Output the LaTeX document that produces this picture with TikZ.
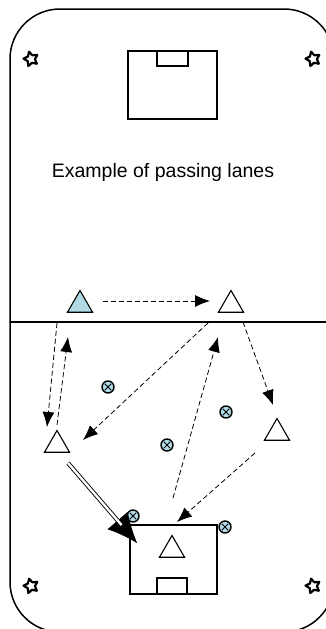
\documentclass[tikz,border=0pt]{standalone}
\usepackage{fontspec}
\setmainfont{Liberation Sans}
\usepackage{tikz}
\usetikzlibrary{calc, shapes.geometric, arrows.meta}
\definecolor{bibblue}{RGB}{176,218,230}
\tikzstyle{player}    = [regular polygon, regular polygon sides=3, minimum size=29pt, inner sep=0pt, draw=black, line width=1.1pt, fill=white]
\tikzstyle{ball}      = [circle, minimum size=12pt, inner sep=0pt, draw=black, line width=1.4pt, fill=bibblue,
                         path picture={\draw[line width=1pt] ($(path picture bounding box.center)+(-3.2pt,-3.2pt)$) -- ($(path picture bounding box.center)+(3.2pt,3.2pt)$)
                                       ($(path picture bounding box.center)+(-3.2pt,3.2pt)$) -- ($(path picture bounding box.center)+(3.2pt,-3.2pt)$);}]
\tikzstyle{cone}      = [star, star points=5, star point ratio=1.9, minimum size=15pt, inner sep=0pt, draw=black, line width=2.2pt, line join=round, rotate=15]
\tikzstyle{goalbox}   = [rectangle, inner sep=0pt, draw=black, line width=1.5pt]
\tikzstyle{passarrow} = [line width=0.8pt, dash pattern=on 5pt off 3pt, ->, >={Latex[length=15pt,width=12pt]}]
\tikzstyle{dribble}   = [double, double distance=2.4pt, line width=0.9pt]
\tikzstyle{dribbletip}= [line width=0.9pt, ->, >={Latex[length=30pt,width=27pt]}]

\begin{document}
\begin{tikzpicture}[x=1pt, y=-1pt]
      \useasboundingbox (0,0) rectangle (326,629);
      \clip (0,0) rectangle (326,629);

      % field
      \draw [line width=1.5pt, rounded corners=50pt] (10,9) rectangle (334,632);
      \draw [line width=1.5pt] (10,322) -- (334,322);

      \node (topbox)  [goalbox, minimum width=89pt, minimum height=68pt] at (172.5,85) {};
      \node (topgoal) [goalbox, minimum width=31pt, minimum height=15pt] at (172.5,58.5) {};
      \node (botbox)  [goalbox, minimum width=87pt, minimum height=69pt] at (173.5,559.5) {};
      \node (botgoal) [goalbox, minimum width=30pt, minimum height=16pt] at (172,586) {};

      \node (c1) [cone] at (31,59) {};
      \node (c2) [cone] at (313,59) {};
      \node (c3) [cone] at (31,586) {};
      \node (c4) [cone] at (313,586) {};

      \node (title) at (163,172) {\fontsize{19.5}{23}\selectfont Example of passing lanes};

      % players
      \node (p0) [player, fill=bibblue] at (80,305) {};
      \node (p1) [player] at (231,305) {};
      \node (p2) [player] at (57,445) {};
      \node (p3) [player] at (277,433) {};
      \node (p4) [player] at (172,550) {};

      % balls
      \node (b1) [ball] at (108,387) {};
      \node (b2) [ball] at (226,412) {};
      \node (b3) [ball] at (167,445) {};
      \node (b4) [ball] at (133,516) {};
      \node (b5) [ball] at (225,527) {};

      % passes
      \draw [passarrow] ([xshift=23pt,yshift=4pt]p0.center) -- ([xshift=-21pt,yshift=4pt]p1.center);
      \draw [passarrow] ([xshift=-23pt,yshift=-18pt]p0.center) -- ([xshift=-10pt,yshift=18pt]p2.center);
      \draw [passarrow] ([yshift=20pt]p2.center) -- ([xshift=-12pt,yshift=-32pt]p0.center);
      \draw [passarrow] ([xshift=-23pt,yshift=-18pt]p1.center) -- ([xshift=26pt,yshift=5pt]p2.center);
      \draw [passarrow] ([xshift=1pt,yshift=52pt]p4.center) -- ([xshift=-13pt,yshift=-32pt]p1.center);
      \draw [passarrow] ([xshift=12pt,yshift=-17pt]p1.center) -- ([xshift=-4pt,yshift=28pt]p3.center);
      \draw [passarrow] ([xshift=-22pt,yshift=-20pt]p3.center) -- ([xshift=5pt,yshift=28pt]p4.center);

      % dribble
      \draw [dribbletip] ([xshift=11pt,yshift=-18pt]p2.center) -- ([xshift=8pt,yshift=-19pt]botbox.north west);
      \draw [dribble, shorten >=24pt] ([xshift=11pt,yshift=-18pt]p2.center) -- ([xshift=8pt,yshift=-19pt]botbox.north west);

    \end{tikzpicture}
\end{document}
